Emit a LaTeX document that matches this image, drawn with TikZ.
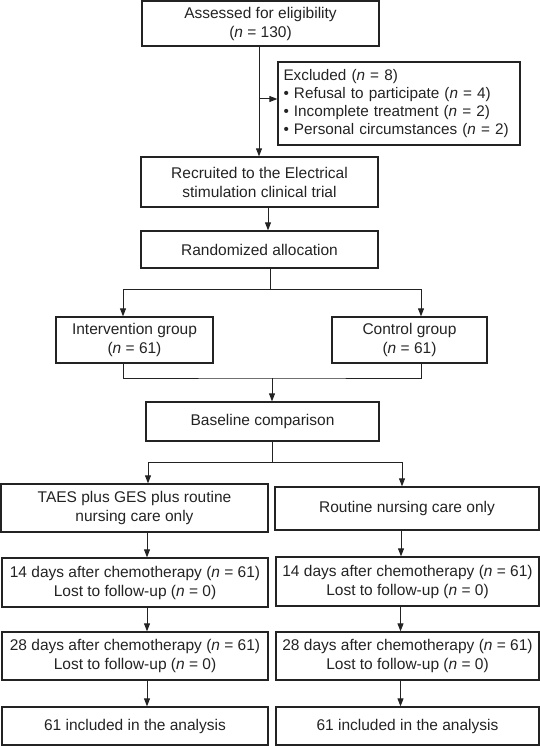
\documentclass[tikz,border=0pt]{standalone}
\usepackage{fontspec}
\setmainfont{Liberation Sans}
\usetikzlibrary{arrows.meta}
\definecolor{ink}{RGB}{35,35,35}
\begin{document}
\begin{tikzpicture}[x=1pt,y=-1pt,
  box/.style={draw=ink, line width=1.3pt, inner sep=0pt, align=center, text=ink, font=\fontsize{15.5}{19}\selectfont},
  arr/.style={draw=ink, line width=1pt, -{Triangle[length=8pt,width=6pt]}},
  ln/.style={draw=ink, line width=1pt}]
\useasboundingbox (0,0) rectangle (540,746);
% top column
\node[box, minimum width=237pt, minimum height=45pt] (assess) at (260.5,23.5) {Assessed for eligibility\\(\textit{n} = 130)};
\node[box, minimum width=242pt, minimum height=83pt, align=left, text width=231pt, inner xsep=5.5pt, font=\fontsize{15.3}{18}\selectfont] (excl) at (399,103.5)
  {Excluded (\textit{n} = 8)\\
   • Refusal to participate (\textit{n} = 4)\\
   • Incomplete treatment (\textit{n} = 2)\\
   • Personal circumstances (\textit{n} = 2)};
\node[box, minimum width=237pt, minimum height=50pt] (recr) at (259.5,182) {Recruited to the Electrical\\stimulation clinical trial};
\node[box, minimum width=237pt, minimum height=37pt] (rand) at (259.5,249.5) {Randomized allocation};
\node[box, minimum width=157pt, minimum height=46pt] (interv) at (134.5,340) {Intervention group\\(\textit{n} = 61)};
\node[box, minimum width=155pt, minimum height=46pt] (ctrl) at (409.5,340) {Control group\\(\textit{n} = 61)};
\node[box, minimum width=233pt, minimum height=39pt] (base) at (262.5,421.5) {Baseline comparison};
% left column
\node[box, minimum width=267pt, minimum height=48pt] (taes) at (134.5,508) {TAES plus GES plus routine\\nursing care only};
\node[box, minimum width=266pt, minimum height=49pt] (d14L) at (135,582.5) {14 days after chemotherapy (\textit{n} = 61)\\Lost to follow-up (\textit{n} = 0)};
\node[box, minimum width=266pt, minimum height=48pt] (d28L) at (135,656) {28 days after chemotherapy (\textit{n} = 61)\\Lost to follow-up (\textit{n} = 0)};
\node[box, minimum width=266pt, minimum height=38pt] (anL) at (135,726) {61 included in the analysis};
% right column
\node[box, minimum width=264pt, minimum height=43pt] (rout) at (407,508.5) {Routine nursing care only};
\node[box, minimum width=263pt, minimum height=49pt] (d14R) at (407.5,581.5) {14 days after chemotherapy (\textit{n} = 61)\\Lost to follow-up (\textit{n} = 0)};
\node[box, minimum width=263pt, minimum height=48pt] (d28R) at (407.5,656) {28 days after chemotherapy (\textit{n} = 61)\\Lost to follow-up (\textit{n} = 0)};
\node[box, minimum width=263pt, minimum height=38pt] (anR) at (407.5,726) {61 included in the analysis};
% branch coordinates
\coordinate (ex) at (259,99);
\coordinate (s0) at (270,289);
\coordinate (m0) at (272,378);
\coordinate (s3) at (272,462);
% connectors
\draw[arr] ([xshift=-1.5pt]assess.south) -- ([xshift=-1.5pt]assess.south |- recr.north);
\draw[arr] (ex) -- (ex -| excl.west);
\draw[arr] ([xshift=8.5pt]recr.south) -- ([xshift=8.5pt]recr.south |- rand.north);
\draw[ln] (rand.south -| s0) -- (s0);
\draw[arr] (s0) -| ([xshift=-11.5pt]interv.north);
\draw[arr] (s0) -| ([xshift=11.5pt]ctrl.north);
\draw[ln] ([xshift=-11.5pt]interv.south) |- (m0) -| ([xshift=11.5pt]ctrl.south);
\draw[arr] (m0) -- (m0 |- base.north);
\draw[ln] (base.south -| s3) -- (s3);
\draw[arr] (s3) -| ([xshift=13.5pt]taes.north);
\draw[arr] (s3) -| ([xshift=-5pt]rout.north);
\draw[arr] ([xshift=12.5pt]taes.south) -- ([xshift=12.5pt]taes.south |- d14L.north);
\draw[arr] ([xshift=12pt]d14L.south) -- ([xshift=12pt]d14L.south |- d28L.north);
\draw[arr] ([xshift=12pt]d28L.south) -- ([xshift=12pt]d28L.south |- anL.north);
\draw[arr] ([xshift=-6pt]rout.south) -- ([xshift=-6pt]rout.south |- d14R.north);
\draw[arr] ([xshift=-7pt]d14R.south) -- ([xshift=-7pt]d14R.south |- d28R.north);
\draw[arr] ([xshift=-7pt]d28R.south) -- ([xshift=-7pt]d28R.south |- anR.north);
\end{tikzpicture}
\end{document}
